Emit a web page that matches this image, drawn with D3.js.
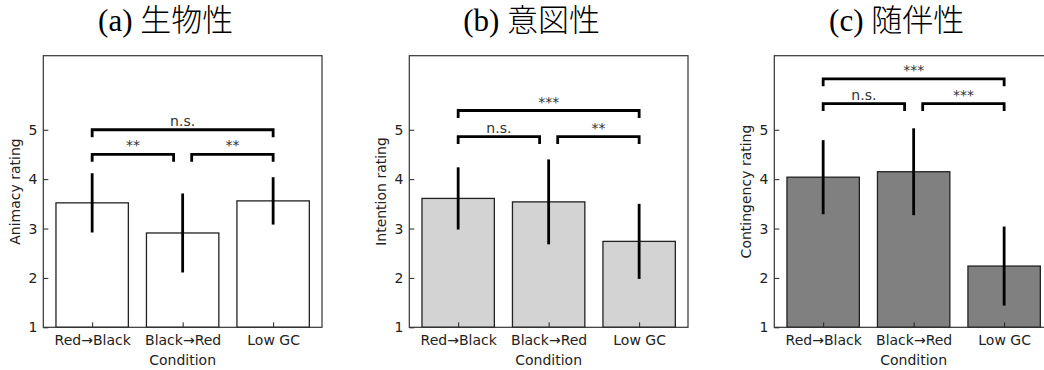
<!DOCTYPE html>
<html>
<head>
<meta charset="utf-8">
<script src="https://cdn.jsdelivr.net/npm/d3@7"></script>
<style>
  body { margin: 0; background: #fff; }
  svg { display: block; }
  text { font-family: "DejaVu Sans", sans-serif; fill: #222; }
  .title { font-family: "Liberation Serif", "Noto Sans CJK JP", serif; font-size: 31px; fill: #000; font-weight: 300; }
</style>
</head>
<body>
<div id="main"></div>
<script>
const width = 1044;
const height = 370;

const conditions = ["Red→Black", "Black→Red", "Low GC"];
const titles = ["(a) 生物性", "(b) 意図性", "(c) 随伴性"];
const yLabels = ["Animacy rating", "Intention rating", "Contingency rating"];
const yTicks = [1, 2, 3, 4, 5];

const animacyMean = [3.52, 2.91, 3.56];
const animacyErr = [0.6, 0.8, 0.48];
const intentionMean = [3.61, 3.54, 2.74];
const intentionErr = [0.63, 0.86, 0.76];
const contingencyMean = [4.04, 4.15, 2.24];
const contingencyErr = [0.75, 0.88, 0.8];

// bracket pairs: left inner, right inner, outer
const bracketPairs = [[0, 1], [1, 2], [0, 2]];
const animacySig = ["**", "**", "n.s."];
const intentionSig = ["n.s.", "**", "***"];
const contingencySig = ["n.s.", "***", "***"];
const animacyBracketY = [4.5, 4.5, 5.0];
const intentionBracketY = [4.86, 4.86, 5.39];
const contingencyBracketY = [5.53, 5.53, 6.03];

const fills = ["#ffffff", "#d3d3d3", "#808080"];

const panels = [
  { mean: animacyMean, err: animacyErr, sig: animacySig, by: animacyBracketY },
  { mean: intentionMean, err: intentionErr, sig: intentionSig, by: intentionBracketY },
  { mean: contingencyMean, err: contingencyErr, sig: contingencySig, by: contingencyBracketY },
];

const lefts = [43.3, 409.3, 774.3];
const axW = 278.7;
const axTop = 55.7, axBottom = 327.3;
const fs = "14px";

const svg = d3.select("#main").append("svg")
  .attr("width", width).attr("height", height);

panels.forEach((p, k) => {
  const x = d3.scaleLinear().domain([-0.54, 2.54]).range([lefts[k], lefts[k] + axW]);
  const y = d3.scaleLinear().domain([1, 6.5]).range([axBottom, axTop]);
  const g = svg.append("g");

  // title
  g.append("text").attr("class", "title")
    .attr("x", lefts[k] + axW / 2 - 17).attr("y", 31)
    .attr("text-anchor", "middle").text(titles[k]);

  // bars
  g.selectAll(".bar").data(p.mean).enter().append("rect")
    .attr("x", (d, i) => x(i - 0.4))
    .attr("y", d => y(d))
    .attr("width", x(0.4) - x(-0.4))
    .attr("height", d => y(1) - y(d))
    .attr("fill", fills[k])
    .attr("stroke", "#222")
    .attr("stroke-width", 1.3);

  // error bars
  g.selectAll(".err").data(p.mean).enter().append("line")
    .attr("x1", (d, i) => x(i)).attr("x2", (d, i) => x(i))
    .attr("y1", (d, i) => y(d - p.err[i]))
    .attr("y2", (d, i) => y(d + p.err[i]))
    .attr("stroke", "#000").attr("stroke-width", 2.8);

  // significance brackets
  bracketPairs.forEach((pr, j) => {
    const x0 = x(pr[0] + (j === 1 ? 0.1 : 0));
    const x1 = x(pr[1] - (j === 0 ? 0.1 : 0));
    const yb = y(p.by[j]);
    const yl = y(p.by[j] - 0.15);
    g.append("path")
      .attr("d", `M${x0},${yl}V${yb}H${x1}V${yl}`)
      .attr("fill", "none").attr("stroke", "#000").attr("stroke-width", 2.8);
    g.append("text")
      .attr("x", (x0 + x1) / 2).attr("y", yb - 4)
      .attr("text-anchor", "middle").style("font-size", fs)
      .style("fill", "#333")
      .text(p.sig[j]);
  });

  // axes
  const xAxis = d3.axisBottom(x).tickValues([0, 1, 2]).tickFormat(i => conditions[i])
    .tickSizeInner(-5).tickSizeOuter(0).tickPadding(8);
  const gx = g.append("g").attr("transform", `translate(0,${axBottom})`).call(xAxis);
  const yAxis = d3.axisLeft(y).tickValues(yTicks).tickFormat(d3.format("d"))
    .tickSizeInner(-5).tickSizeOuter(0).tickPadding(6);
  const gy = g.append("g").attr("transform", `translate(${lefts[k]},0)`).call(yAxis);
  [gx, gy].forEach(a => {
    a.select(".domain").remove();
    a.selectAll("line").attr("stroke", "#222").attr("stroke-width", 1);
    a.selectAll("text").style("font-size", fs).style("font-family", "DejaVu Sans").attr("fill", "#222");
  });

  // frame
  g.append("rect")
    .attr("x", lefts[k]).attr("y", axTop)
    .attr("width", axW).attr("height", axBottom - axTop)
    .attr("fill", "none").attr("stroke", "#333").attr("stroke-width", 1.2);

  g.append("text")
    .attr("x", lefts[k] + axW / 2).attr("y", 365)
    .attr("text-anchor", "middle").style("font-size", fs)
    .text("Condition");

  g.append("text")
    .attr("transform", `translate(${lefts[k] - 23},${(axTop + axBottom) / 2}) rotate(-90)`)
    .attr("text-anchor", "middle").style("font-size", fs)
    .text(yLabels[k]);
});
</script>
</body>
</html>
